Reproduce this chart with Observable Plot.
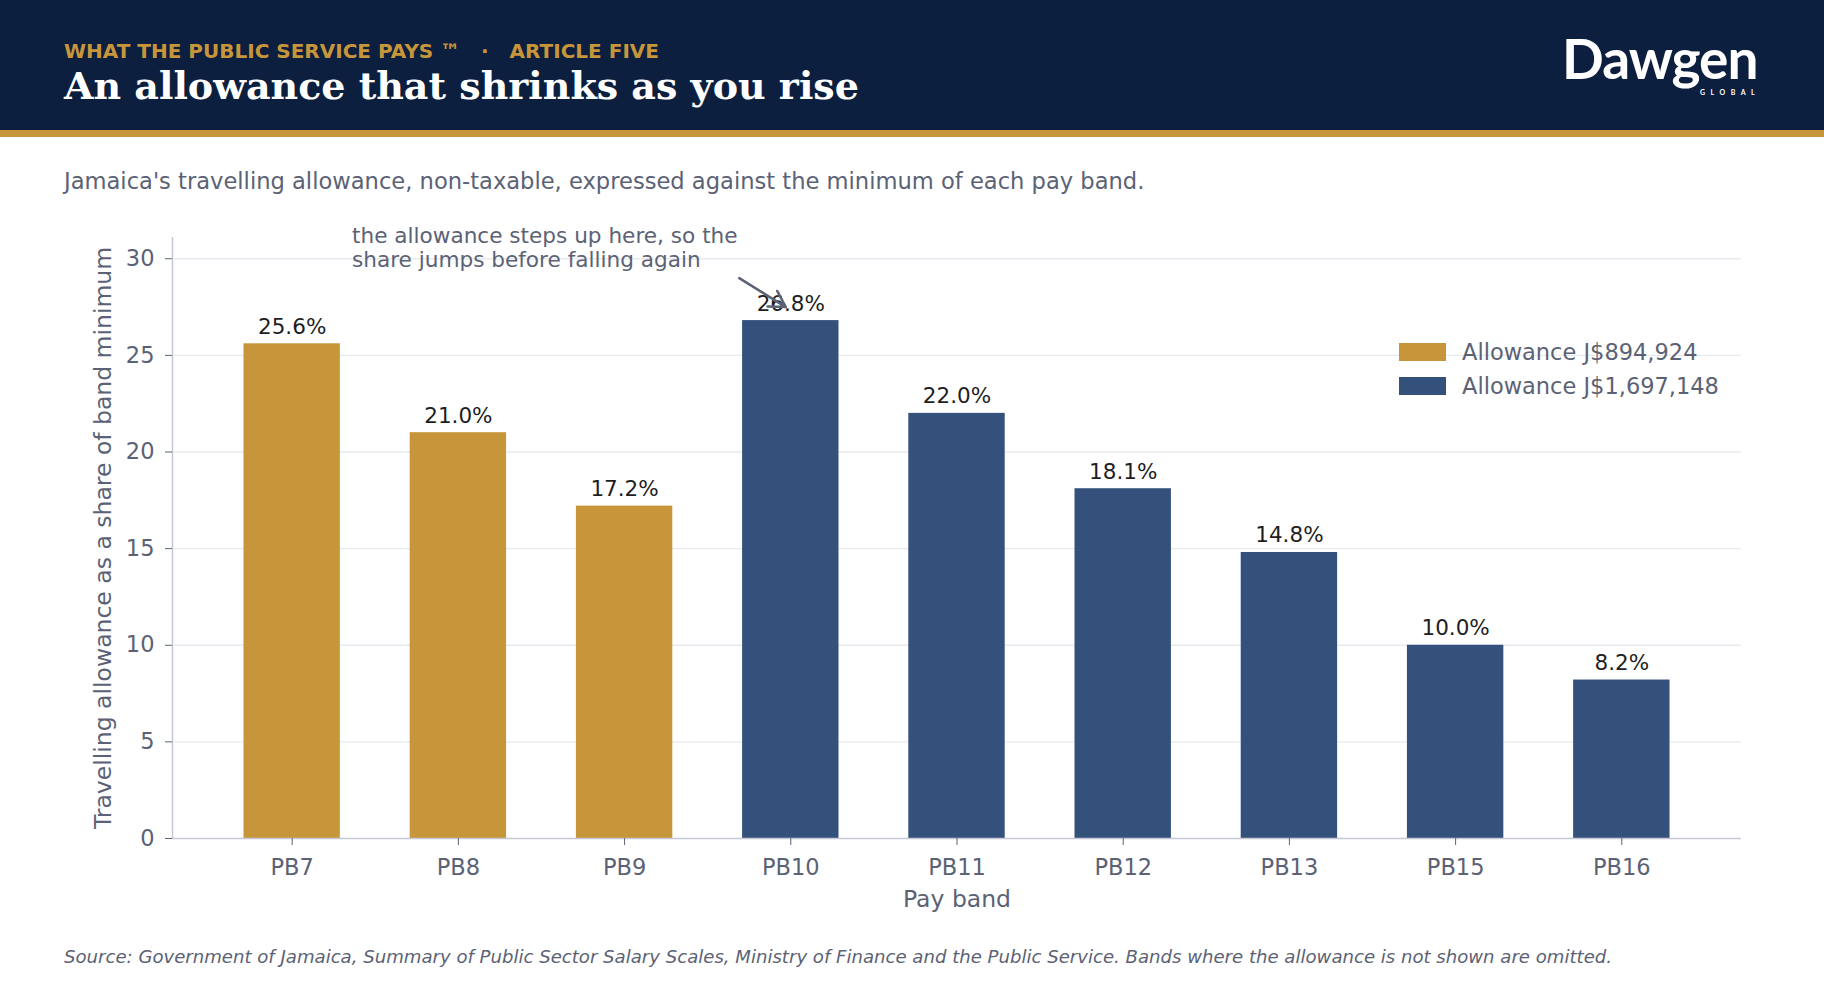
<!DOCTYPE html>
<html>
<head>
<meta charset="utf-8">
<script src="https://cdn.jsdelivr.net/npm/d3@7"></script>
<script src="https://cdn.jsdelivr.net/npm/@observablehq/plot@0.6"></script>
<style>
  html, body { margin: 0; padding: 0; background: #fff; }
  body { width: 1824px; height: 988px; position: relative; overflow: hidden; font-family: "DejaVu Sans", sans-serif; }
  .band { position: absolute; left: 0; top: 0; width: 1824px; height: 130px; background: #0d1f3f; }
  .stripe { position: absolute; left: 0; top: 130px; width: 1824px; height: 7px; background: #c8963a; }
  .abs { position: absolute; white-space: pre; }
  #kicker { left: 64px; top: 41px; font-size: 20px; line-height: 20px; font-weight: bold; color: #c8963a; }
  #title { left: 64px; top: 67px; font-family: "DejaVu Serif", serif; font-size: 38px; line-height: 38px; font-weight: bold; color: #fff; }
  #logo { left: 1562px; top: 36px; font-family: Lato, sans-serif; font-weight: bold; font-size: 55px; line-height: 44px; height: 44px; color: #fff; letter-spacing: -1px; }
  #logo2 { left: 1700px; top: 89px; font-family: Lato, sans-serif; font-weight: bold; font-size: 7px; line-height: 7px; color: #fff; letter-spacing: 5.5px; }
  #subtitle { left: 64px; top: 170px; font-size: 22.6px; line-height: 22.6px; color: #5b6275; }
  #chart { position: absolute; left: 0; top: 200px; }
  #legend { left: 1399px; top: 335px; }
  .row { display: flex; align-items: center; height: 34px; font-size: 22.5px; color: #5b6275; }
  .sw { width: 47px; height: 18px; margin-right: 16px; }
  #caption { left: 64px; top: 948px; font-size: 18.1px; line-height: 18px; font-style: italic; color: #5b6275; }
</style>
</head>
<body>
<div class="band"></div>
<div class="stripe"></div>
<div class="abs" id="kicker">WHAT THE PUBLIC SERVICE PAYS ™   ·   ARTICLE FIVE</div>
<div class="abs" id="title">An allowance that shrinks as you rise</div>
<div class="abs" id="logo">Dawgen</div>
<div class="abs" id="logo2">GLOBAL</div>
<div class="abs" id="subtitle">Jamaica's travelling allowance, non-taxable, expressed against the minimum of each pay band.</div>
<div id="chart"></div>
<div class="abs" id="legend"></div>
<div class="abs" id="caption">Source: Government of Jamaica, Summary of Public Sector Salary Scales, Ministry of Finance and the Public Service. Bands where the allowance is not shown are omitted.</div>
<script>
const bands = ["PB7", "PB8", "PB9", "PB10", "PB11", "PB12", "PB13", "PB15", "PB16"];
const shares = [25.6, 21.0, 17.2, 26.8, 22.0, 18.1, 14.8, 10.0, 8.2];
const bandGroup = [0, 0, 0, 1, 1, 1, 1, 1, 1];
const groups = ["Allowance J$894,924", "Allowance J$1,697,148"];
const groupColors = ["#c8963a", "#33517b"];
const yTicks = [0, 5, 10, 15, 20, 25, 30];
const note = "the allowance steps up here, so the\nshare jumps before falling again";

const data = bands.map((b, i) => ({band: b, i: i, share: shares[i], group: groups[bandGroup[i]]}));
const xDomain = [-0.72, bands.length - 1 + 0.72];
const half = 0.29;

const chart = Plot.plot({
  width: 1824,
  height: 730,
  marginTop: 37,
  marginBottom: 92,
  marginLeft: 172,
  marginRight: 83,
  style: {fontFamily: "DejaVu Sans", fontSize: "22.5px", color: "#5b6275", background: "transparent"},
  x: {domain: xDomain},
  y: {domain: [0, 31.1]},
  color: {domain: groups, range: groupColors},
  marks: [
    Plot.gridY(yTicks.slice(1), {stroke: "#e8eaef", strokeOpacity: 1, strokeWidth: 1.3}),
    Plot.rectY(data, {x1: d => d.i - half, x2: d => d.i + half, y1: 0, y2: "share", fill: "group"}),
    Plot.ruleX([xDomain[0]], {stroke: "#c5c8d6", strokeWidth: 1.5}),
    Plot.ruleY([0], {stroke: "#c5c8d6", strokeWidth: 1.5}),
    Plot.axisY(yTicks, {tickSize: 7, tickPadding: 11, label: null, stroke: "#5b6275", fill: "#5b6275"}),
    Plot.axisX(data.map(d => d.i), {tickSize: 7, tickPadding: 14, tickFormat: i => bands[i], label: null, stroke: "#5b6275", fill: "#5b6275"}),
    Plot.text(["Travelling allowance as a share of band minimum"], {frameAnchor: "left", rotate: -90, dx: -69, textAnchor: "middle", lineAnchor: "middle", fontSize: 23.5, fill: "#5b6275"}),
    Plot.text(["Pay band"], {frameAnchor: "bottom", dy: 61, lineAnchor: "middle", fontSize: 23.5, fill: "#5b6275"}),
    Plot.text(data, {x: "i", y: "share", text: d => d.share.toFixed(1) + "%", dy: -10, lineAnchor: "bottom", fontSize: 21.5, fill: "#1e1e1e"}),
    Plot.text([note], {x: 0.36, y: 30.6, textAnchor: "start", lineAnchor: "middle", lineHeight: 1.1, fontSize: 21.6, fill: "#5b6275"}),
    Plot.arrow([note], {x1: 2.69, y1: 29.0, x2: 2.97, y2: 27.5, stroke: "#5b6275", strokeWidth: 2.5, headLength: 12})
  ]
});
d3.select("#chart").append(() => chart);

const legend = d3.select("#legend");
groups.forEach((g, k) => {
  const row = legend.append("div").attr("class", "row");
  row.append("div").attr("class", "sw").style("background", groupColors[k]);
  row.append("span").text(g);
});
</script>
</body>
</html>
